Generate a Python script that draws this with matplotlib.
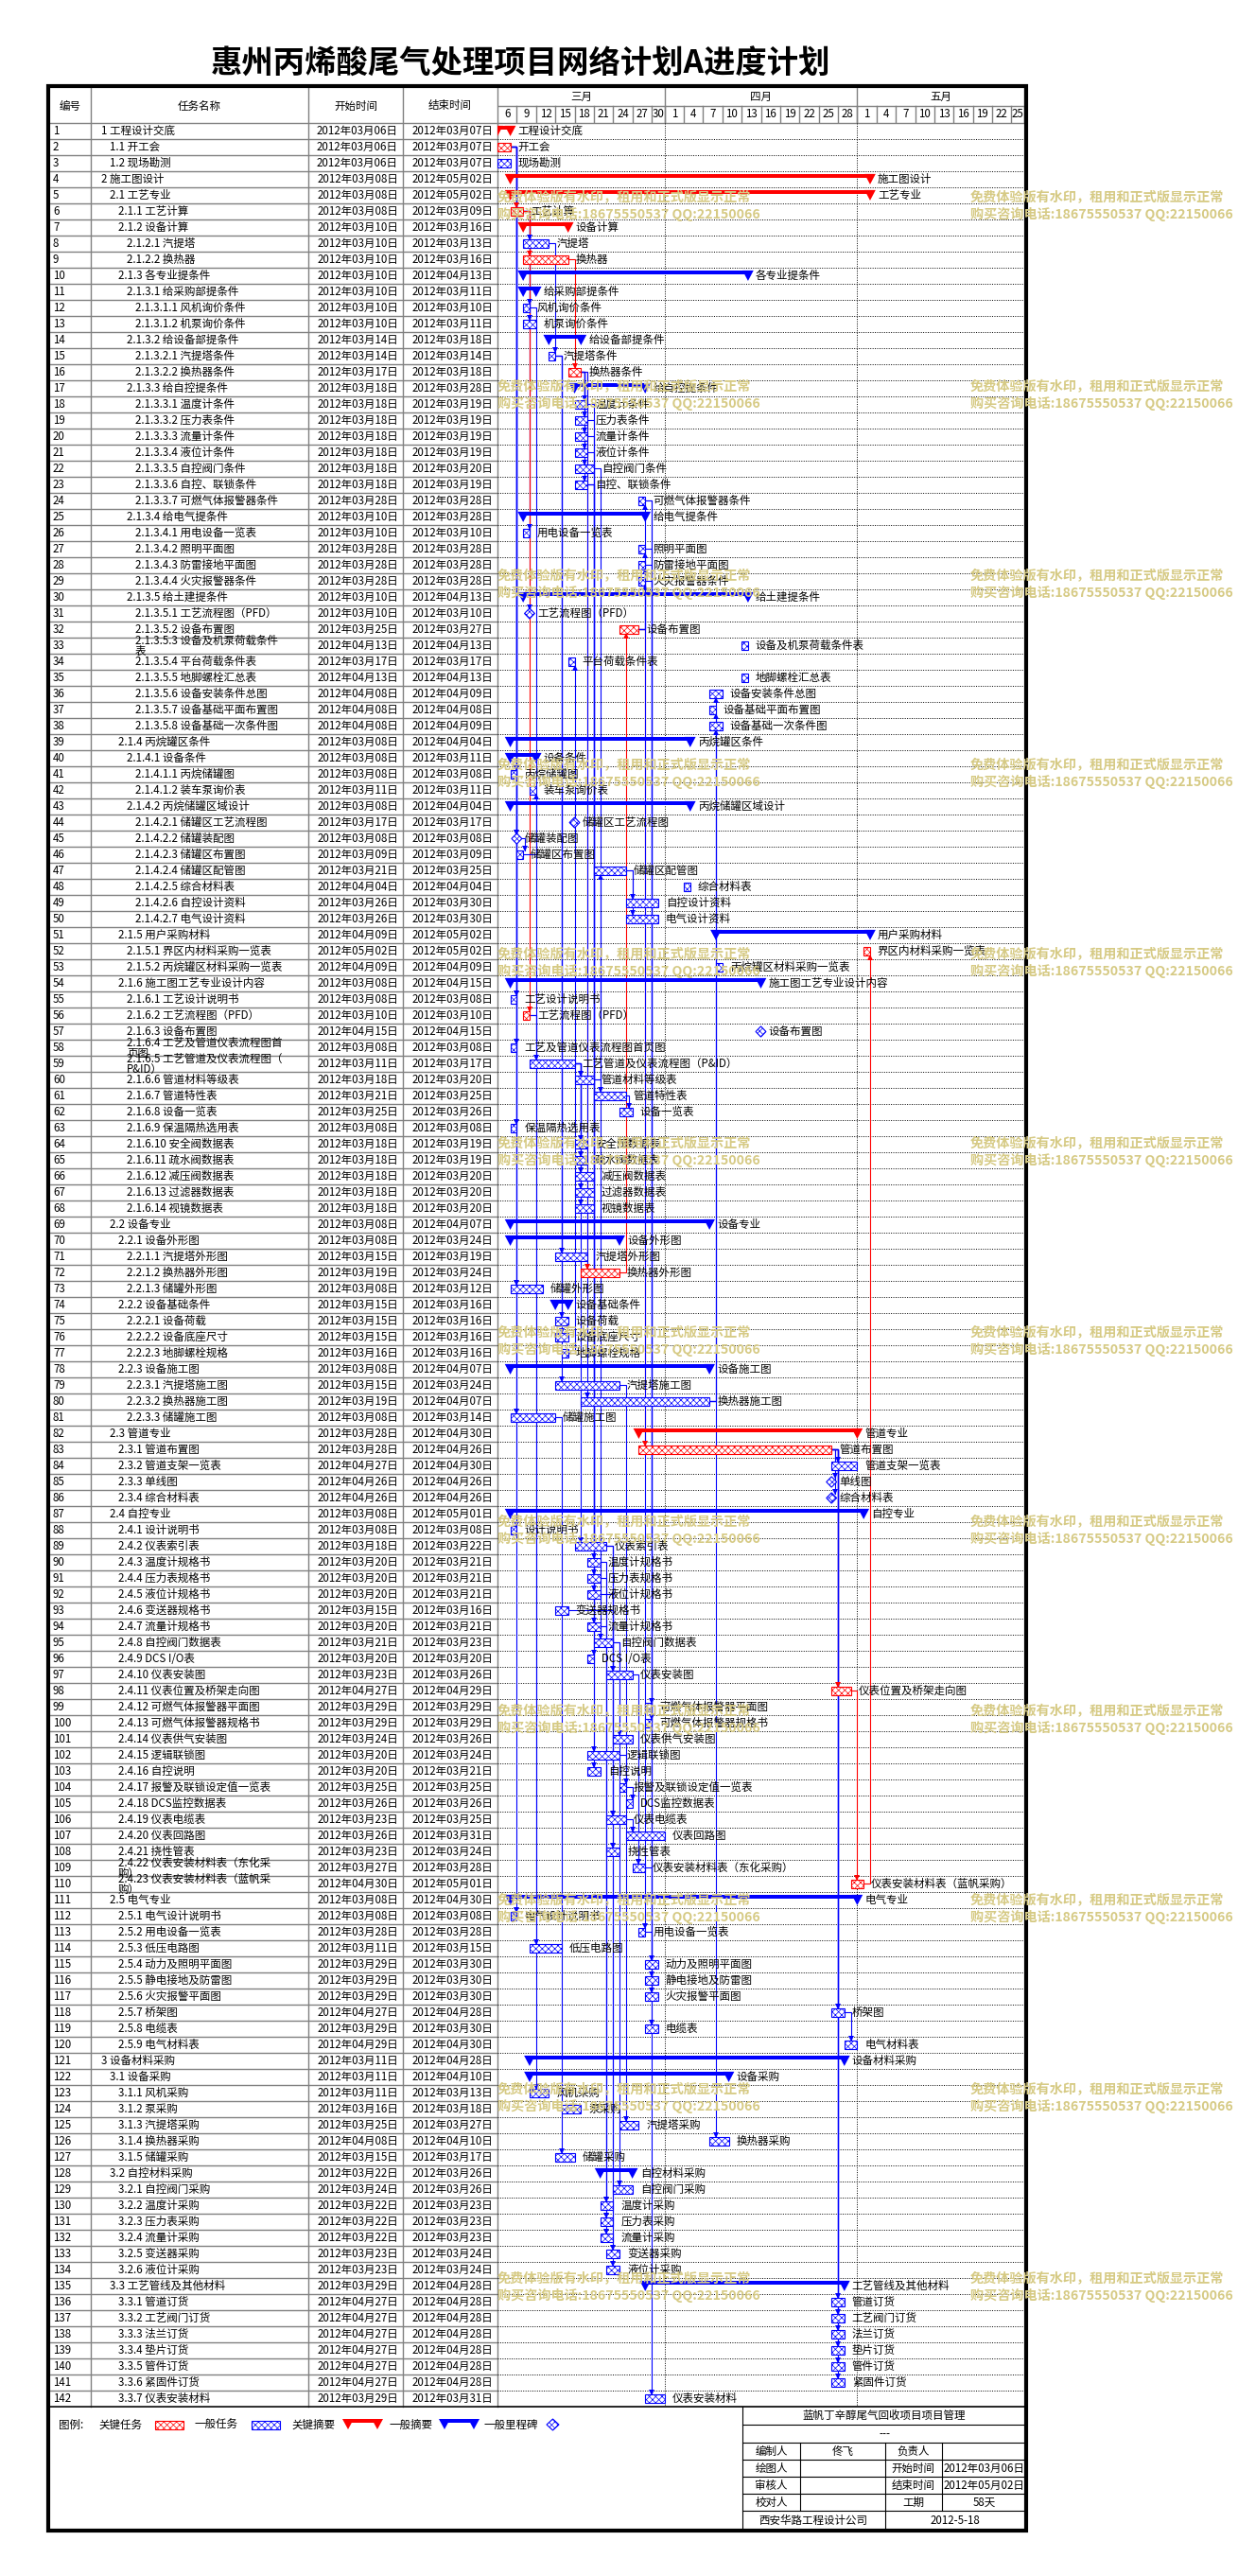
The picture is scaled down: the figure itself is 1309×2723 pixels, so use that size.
import datetime as dt
import matplotlib
matplotlib.use('Agg')
import matplotlib.pyplot as plt
from matplotlib.patches import Rectangle, Polygon

plt.rcParams['font.family'] = ['Noto Sans CJK SC', 'DejaVu Sans']
plt.rcParams['hatch.linewidth'] = 0.5

W, H = 1309, 2723
RED, BLUE, GRAY = '#ff0000', '#0000ff', '#808080'
WM = '#d6ca84'

title = '惠州丙烯酸尾气处理项目网络计划A进度计划'

# ---- 任务数据 ----
names = [
    '1 工程设计交底', '1.1 开工会', '1.2 现场勘测', '2 施工图设计', '2.1 工艺专业',
    '2.1.1 工艺计算', '2.1.2 设备计算', '2.1.2.1 汽提塔', '2.1.2.2 换热器', '2.1.3 各专业提条件',
    '2.1.3.1 给采购部提条件', '2.1.3.1.1 风机询价条件', '2.1.3.1.2 机泵询价条件', '2.1.3.2 给设备部提条件',
    '2.1.3.2.1 汽提塔条件', '2.1.3.2.2 换热器条件', '2.1.3.3 给自控提条件', '2.1.3.3.1 温度计条件',
    '2.1.3.3.2 压力表条件', '2.1.3.3.3 流量计条件', '2.1.3.3.4 液位计条件', '2.1.3.3.5 自控阀门条件',
    '2.1.3.3.6 自控、联锁条件', '2.1.3.3.7 可燃气体报警器条件', '2.1.3.4 给电气提条件',
    '2.1.3.4.1 用电设备一览表', '2.1.3.4.2 照明平面图', '2.1.3.4.3 防雷接地平面图', '2.1.3.4.4 火灾报警器条件',
    '2.1.3.5 给土建提条件', '2.1.3.5.1 工艺流程图（PFD）', '2.1.3.5.2 设备布置图',
    '2.1.3.5.3 设备及机泵荷载条件\n表', '2.1.3.5.4 平台荷载条件表', '2.1.3.5.5 地脚螺栓汇总表',
    '2.1.3.5.6 设备安装条件总图', '2.1.3.5.7 设备基础平面布置图', '2.1.3.5.8 设备基础一次条件图',
    '2.1.4 丙烷罐区条件', '2.1.4.1 设备条件', '2.1.4.1.1 丙烷储罐图', '2.1.4.1.2 装车泵询价表',
    '2.1.4.2 丙烷储罐区域设计', '2.1.4.2.1 储罐区工艺流程图', '2.1.4.2.2 储罐装配图', '2.1.4.2.3 储罐区布置图',
    '2.1.4.2.4 储罐区配管图', '2.1.4.2.5 综合材料表', '2.1.4.2.6 自控设计资料', '2.1.4.2.7 电气设计资料',
    '2.1.5 用户采购材料', '2.1.5.1 界区内材料采购一览表', '2.1.5.2 丙烷罐区材料采购一览表',
    '2.1.6 施工图工艺专业设计内容', '2.1.6.1 工艺设计说明书', '2.1.6.2 工艺流程图（PFD）', '2.1.6.3 设备布置图',
    '2.1.6.4 工艺及管道仪表流程图首\n页图', '2.1.6.5 工艺管道及仪表流程图（\nP&ID）', '2.1.6.6 管道材料等级表',
    '2.1.6.7 管道特性表', '2.1.6.8 设备一览表', '2.1.6.9 保温隔热选用表', '2.1.6.10 安全阀数据表',
    '2.1.6.11 疏水阀数据表', '2.1.6.12 减压阀数据表', '2.1.6.13 过滤器数据表', '2.1.6.14 视镜数据表',
    '2.2 设备专业', '2.2.1 设备外形图', '2.2.1.1 汽提塔外形图', '2.2.1.2 换热器外形图', '2.2.1.3 储罐外形图',
    '2.2.2 设备基础条件', '2.2.2.1 设备荷载', '2.2.2.2 设备底座尺寸', '2.2.2.3 地脚螺栓规格', '2.2.3 设备施工图',
    '2.2.3.1 汽提塔施工图', '2.2.3.2 换热器施工图', '2.2.3.3 储罐施工图', '2.3 管道专业', '2.3.1 管道布置图',
    '2.3.2 管道支架一览表', '2.3.3 单线图', '2.3.4 综合材料表', '2.4 自控专业', '2.4.1 设计说明书',
    '2.4.2 仪表索引表', '2.4.3 温度计规格书', '2.4.4 压力表规格书', '2.4.5 液位计规格书', '2.4.6 变送器规格书',
    '2.4.7 流量计规格书', '2.4.8 自控阀门数据表', '2.4.9 DCS I/O表', '2.4.10 仪表安装图',
    '2.4.11 仪表位置及桥架走向图', '2.4.12 可燃气体报警器平面图', '2.4.13 可燃气体报警器规格书',
    '2.4.14 仪表供气安装图', '2.4.15 逻辑联锁图', '2.4.16 自控说明', '2.4.17 报警及联锁设定值一览表',
    '2.4.18 DCS监控数据表', '2.4.19 仪表电缆表', '2.4.20 仪表回路图', '2.4.21 挠性管表',
    '2.4.22 仪表安装材料表（东化采\n购）', '2.4.23 仪表安装材料表（蓝帆采\n购）', '2.5 电气专业',
    '2.5.1 电气设计说明书', '2.5.2 用电设备一览表', '2.5.3 低压电路图', '2.5.4 动力及照明平面图',
    '2.5.5 静电接地及防雷图', '2.5.6 火灾报警平面图', '2.5.7 桥架图', '2.5.8 电缆表', '2.5.9 电气材料表',
    '3 设备材料采购', '3.1 设备采购', '3.1.1 风机采购', '3.1.2 泵采购', '3.1.3 汽提塔采购', '3.1.4 换热器采购',
    '3.1.5 储罐采购', '3.2 自控材料采购', '3.2.1 自控阀门采购', '3.2.2 温度计采购', '3.2.3 压力表采购',
    '3.2.4 流量计采购', '3.2.5 变送器采购', '3.2.6 液位计采购', '3.3 工艺管线及其他材料', '3.3.1 管道订货',
    '3.3.2 工艺阀门订货', '3.3.3 法兰订货', '3.3.4 垫片订货', '3.3.5 管件订货', '3.3.6 紧固件订货',
    '3.3.7 仪表安装材料',
]

starts = [
    '03-06', '03-06', '03-06', '03-08', '03-08', '03-08', '03-10', '03-10', '03-10', '03-10',
    '03-10', '03-10', '03-10', '03-14', '03-14', '03-17', '03-18', '03-18', '03-18', '03-18',
    '03-18', '03-18', '03-18', '03-28', '03-10', '03-10', '03-28', '03-28', '03-28', '03-10',
    '03-10', '03-25', '04-13', '03-17', '04-13', '04-08', '04-08', '04-08', '03-08', '03-08',
    '03-08', '03-11', '03-08', '03-17', '03-08', '03-09', '03-21', '04-04', '03-26', '03-26',
    '04-09', '05-02', '04-09', '03-08', '03-08', '03-10', '04-15', '03-08', '03-11', '03-18',
    '03-21', '03-25', '03-08', '03-18', '03-18', '03-18', '03-18', '03-18', '03-08', '03-08',
    '03-15', '03-19', '03-08', '03-15', '03-15', '03-15', '03-16', '03-08', '03-15', '03-19',
    '03-08', '03-28', '03-28', '04-27', '04-26', '04-26', '03-08', '03-08', '03-18', '03-20',
    '03-20', '03-20', '03-15', '03-20', '03-21', '03-20', '03-23', '04-27', '03-29', '03-29',
    '03-24', '03-20', '03-20', '03-25', '03-26', '03-23', '03-26', '03-23', '03-27', '04-30',
    '03-08', '03-08', '03-28', '03-11', '03-29', '03-29', '03-29', '04-27', '03-29', '04-29',
    '03-11', '03-11', '03-11', '03-16', '03-25', '04-08', '03-15', '03-22', '03-24', '03-22',
    '03-22', '03-22', '03-23', '03-23', '03-29', '04-27', '04-27', '04-27', '04-27', '04-27',
    '04-27', '03-29',
]

ends = [
    '03-07', '03-07', '03-07', '05-02', '05-02', '03-09', '03-16', '03-13', '03-16', '04-13',
    '03-11', '03-10', '03-11', '03-18', '03-14', '03-18', '03-28', '03-19', '03-19', '03-19',
    '03-19', '03-20', '03-19', '03-28', '03-28', '03-10', '03-28', '03-28', '03-28', '04-13',
    '03-10', '03-27', '04-13', '03-17', '04-13', '04-09', '04-08', '04-09', '04-04', '03-11',
    '03-08', '03-11', '04-04', '03-17', '03-08', '03-09', '03-25', '04-04', '03-30', '03-30',
    '05-02', '05-02', '04-09', '04-15', '03-08', '03-10', '04-15', '03-08', '03-17', '03-20',
    '03-25', '03-26', '03-08', '03-19', '03-19', '03-20', '03-20', '03-20', '04-07', '03-24',
    '03-19', '03-24', '03-12', '03-16', '03-16', '03-16', '03-16', '04-07', '03-24', '04-07',
    '03-14', '04-30', '04-26', '04-30', '04-26', '04-26', '05-01', '03-08', '03-22', '03-21',
    '03-21', '03-21', '03-16', '03-21', '03-23', '03-20', '03-26', '04-29', '03-29', '03-29',
    '03-26', '03-24', '03-21', '03-25', '03-26', '03-25', '03-31', '03-24', '03-28', '05-01',
    '04-30', '03-08', '03-28', '03-15', '03-30', '03-30', '03-30', '04-28', '03-30', '04-30',
    '04-28', '04-10', '03-13', '03-18', '03-27', '04-10', '03-17', '03-26', '03-26', '03-23',
    '03-23', '03-23', '03-24', '03-24', '04-28', '04-28', '04-28', '04-28', '04-28', '04-28',
    '04-28', '03-31',
]

crit_summary = [1, 4, 5, 7, 82]
crit_task = [2, 6, 9, 16, 32, 52, 56, 72, 83, 98, 110]
milestones = [31, 44, 45, 57, 85, 86]

# 前置任务 -> 后续任务
links = [
    (2, 6), (6, 8), (6, 9), (6, 12), (6, 13), (6, 26), (6, 31), (6, 56), (8, 15), (9, 16),
    (16, 18), (16, 19), (16, 20), (16, 21), (16, 22), (16, 23), (16, 72), (16, 80),
    (15, 71), (15, 75), (15, 76), (15, 79), (77, 34), (72, 32), (32, 24), (32, 27), (32, 28),
    (32, 29), (32, 83), (32, 113), (2, 41), (2, 45), (45, 46), (46, 42), (2, 55), (2, 58),
    (2, 63), (2, 73), (2, 81), (2, 88), (2, 112), (56, 59), (59, 60), (59, 64), (59, 65),
    (59, 66), (59, 67), (59, 68), (59, 89), (60, 47), (60, 61), (47, 49), (47, 50), (61, 62),
    (80, 36), (80, 37), (80, 38), (80, 126), (79, 125), (81, 127), (83, 84), (83, 85),
    (83, 86), (83, 98), (83, 118), (83, 136), (83, 137), (83, 138), (83, 139), (83, 140),
    (83, 141), (98, 110), (110, 52), (18, 90), (19, 91), (21, 92), (20, 94), (22, 95),
    (23, 96), (89, 97), (89, 106), (89, 108), (95, 101), (95, 129), (23, 102), (23, 103),
    (102, 104), (104, 105), (106, 107), (97, 109), (109, 142), (24, 99), (24, 100),
    (27, 115), (28, 116), (29, 117), (113, 119), (118, 120), (56, 114), (12, 123),
    (90, 130), (91, 131), (94, 132), (93, 133), (92, 134),
]

months = ['三月', '四月', '五月']
month_starts = ['03-06', '04-01', '05-01', '05-27']
day_ticks = ['03-06', '03-09', '03-12', '03-15', '03-18', '03-21', '03-24', '03-27', '03-30',
             '04-01', '04-04', '04-07', '04-10', '04-13', '04-16', '04-19', '04-22', '04-25', '04-28',
             '05-01', '05-04', '05-07', '05-10', '05-13', '05-16', '05-19', '05-22', '05-25', '05-27']

col_heads = ['编号', '任务名称', '开始时间', '结束时间']
legend_items = ['关键任务', '一般任务', '关键摘要', '一般摘要', '一般里程碑']
wm_lines = ['免费体验版有水印，租用和正式版显示正常', '购买咨询电话:18675550537 QQ:22150066']

info_title = '蓝帆丁辛醇尾气回收项目项目管理'
info_rows = [['编制人', '佟飞', '负责人', ''],
             ['绘图人', '', '开始时间', '2012年03月06日'],
             ['审核人', '', '结束时间', '2012年05月02日'],
             ['校对人', '', '工期', '58天']]
info_foot = ['西安华路工程设计公司', '2012-5-18']

T0 = dt.date(2012, 3, 6)


def day(s):
    m, d = s.split('-')
    return (dt.date(2012, int(m), int(d)) - T0).days


def cn_date(s):
    m, d = s.split('-')
    return '2012年%s月%s日' % (m, d)


n = len(names)
levels = [len(nm.split(' ')[0].split('.')) for nm in names]
summary = [i + 1 for i in range(n - 1) if levels[i + 1] > levels[i]]

# ---- 画布 ----
fig = plt.figure(figsize=(W / 100, H / 100), dpi=100)


def px_axes(x0, y0, x1, y1):
    return fig.add_axes([x0 / W, 1 - y1 / H, (x1 - x0) / W, (y1 - y0) / H])


ax_bg = px_axes(0, 0, W, H)
ax_bg.set_xlim(0, W)
ax_bg.set_ylim(H, 0)
ax_bg.axis('off')

GL, GR = 526, 1083          # 甘特图左右
TOP, BOT = 130, 2544        # 表体上下
FS = 8.3

ax_bg.text(551, 68, title, fontsize=24, fontweight='bold', ha='center', va='center')

# 表头
ax_bg.plot([53, GR], [130, 130], color=GRAY, lw=1)
for x in [96, 326, 426, GL]:
    ax_bg.plot([x, x], [93, BOT], color=GRAY, lw=1)
for x, t in zip([74.5, 211, 376, 476], col_heads):
    ax_bg.text(x, 112, t, fontsize=FS, ha='center', va='center')

ax_h = px_axes(GL, 93, GR, 130)
ax_h.set_xlim(0, day('05-27'))
ax_h.set_ylim(2, 0)
ax_h.axis('off')
ax_h.plot([0, day('05-27')], [1, 1], color=GRAY, lw=1)
for i, m in enumerate(months):
    a, b = day(month_starts[i]), day(month_starts[i + 1])
    ax_h.plot([b, b], [0, 2], color=GRAY, lw=1)
    ax_h.text((a + b) / 2, 0.5, m, fontsize=FS, ha='center', va='center')
for i in range(len(day_ticks) - 1):
    a, b = day(day_ticks[i]), day(day_ticks[i + 1])
    ax_h.plot([b, b], [1, 2], color=GRAY, lw=1)
    ax_h.text((a + b) / 2, 1.5, str(int(day_ticks[i][3:])), fontsize=FS, ha='center', va='center')

# ---- 表格 ----
ax_t = px_axes(53, TOP, GL, BOT)
ax_t.set_xlim(53, GL)
ax_t.set_ylim(n + 0.5, 0.5)
ax_t.axis('off')
for i in range(n):
    r = i + 1
    ax_t.plot([53, GL], [r + 0.5, r + 0.5], color=GRAY, lw=1)
    ax_t.text(56, r, str(r), fontsize=FS, ha='left', va='center')
    x = 107 + 9 * (levels[i] - 1)
    if '\n' in names[i]:
        l1, l2 = names[i].split('\n')
        ax_t.text(x, r - 0.3, l1, fontsize=FS, ha='left', va='center')
        ax_t.text(x, r + 0.36, l2, fontsize=FS, ha='left', va='center')
    else:
        ax_t.text(x, r, names[i], fontsize=FS, ha='left', va='center')
    ax_t.text(421, r, cn_date(starts[i]), fontsize=FS, ha='right', va='center')
    ax_t.text(521, r, cn_date(ends[i]), fontsize=FS, ha='right', va='center')

# ---- 甘特图 ----
ax_g = px_axes(GL, TOP, GR, BOT)
ax_g.set_xlim(0, day('05-27'))
ax_g.set_ylim(n + 0.5, 0.5)
ax_g.axis('off')
dotted = (0, (1, 1.5))
for r in range(1, n + 1):
    ax_g.plot([0, day('05-27')], [r + 0.5, r + 0.5], color='black', lw=0.7, ls=dotted)
for m in month_starts[1:3]:
    ax_g.plot([day(m), day(m)], [0.5, n + 0.5], color='black', lw=0.7, ls=dotted)

BH = 0.265   # 任务条半高（行）
TW = 0.86    # 摘要三角半宽（天）
DW = 0.8     # 里程碑半宽（天）
LBL = 1.18   # 标签偏移（天）


def bar_end(r):
    i = r - 1
    if r in milestones:
        return day(ends[i]) + 1 + DW
    return day(ends[i]) + 1


for i in range(n):
    r = i + 1
    s, e = day(starts[i]), day(ends[i]) + 1
    label = names[i].replace('\n', '').split(' ', 1)[1]
    if r in summary:
        c = RED if r in crit_summary else BLUE
        ax_g.add_patch(Rectangle((s, r - 0.33), e - s, 0.25, color=c, lw=0, zorder=4))
        for xx in (s, e):
            ax_g.add_patch(Polygon([(xx - TW, r - 0.33), (xx + TW, r - 0.33), (xx, r + 0.32)],
                                   closed=True, color=c, lw=0, zorder=4))
    elif r in milestones:
        ax_g.add_patch(Polygon([(e - DW, r), (e, r - 0.33), (e + DW, r), (e, r + 0.33)], closed=True,
                               facecolor='white', edgecolor=BLUE, hatch='xxxxx', lw=0.8, zorder=4))
    else:
        c = RED if r in crit_task else BLUE
        ax_g.add_patch(Rectangle((s, r - BH), e - s, 2 * BH, facecolor='white', edgecolor=c,
                                 hatch='xxxxx', lw=0.8, zorder=4))
    ax_g.text(e + LBL, r, label, fontsize=FS, ha='left', va='center', zorder=6, clip_on=False)

# 链接线
for p, q in links:
    c = RED if (p in crit_task and q in crit_task) else BLUE
    x0 = bar_end(p)
    xv = max(day(starts[q - 1]) + 1, x0 + 0.5)
    if q > p:
        y1, mk = q - BH - 0.02, 'v'
    else:
        y1, mk = q + BH + 0.02, '^'
    ax_g.plot([x0, xv, xv], [p, p, y1], color=c, lw=0.8, zorder=3, solid_joinstyle='miter')
    ax_g.plot([xv], [y1 + (-0.08 if q > p else 0.08)], marker=mk, color=c, markersize=4,
              markeredgewidth=0, zorder=5)

# ---- 图例与边框 ----
ax_bg.plot([53, GR], [BOT, BOT], color='black', lw=1.2)
ly = 2563
ax_bg.text(62, ly, '图例:', fontsize=FS, va='center')
lx_text = [104, 206, 308, 411, 512]
for x, t in zip(lx_text, legend_items):
    ax_bg.text(x, ly, t, fontsize=FS, va='center')
ax_bg.add_patch(Rectangle((164, ly - 4.5), 30, 9, facecolor='white', edgecolor=RED, hatch='xxxxx', lw=0.8))
ax_bg.add_patch(Rectangle((266, ly - 4.5), 30, 9, facecolor='white', edgecolor=BLUE, hatch='xxxxx', lw=0.8))
for x0, c in [(362, RED), (464, BLUE)]:
    ax_bg.add_patch(Rectangle((x0 + 6, ly - 6), 31, 4, color=c, lw=0))
    for xx in (x0 + 6, x0 + 37):
        ax_bg.add_patch(Polygon([(xx - 6, ly - 6), (xx + 6, ly - 6), (xx, ly + 5)], closed=True, color=c, lw=0))
ax_bg.add_patch(Polygon([(578, ly), (584.5, ly - 6), (591, ly), (584.5, ly + 6)], closed=True,
                        facecolor='white', edgecolor=BLUE, hatch='xxxxx', lw=0.8))

# 信息栏
bx = [785, 846, 935.5, 996, 1085]
by = [2544, 2563, 2582, 2600, 2618, 2636, 2654, 2675]
ax_bg.plot([bx[0], bx[0]], [by[0], by[-1]], color='black', lw=0.8)
for y in by[1:-1]:
    ax_bg.plot([bx[0], bx[-1]], [y, y], color='black', lw=0.8)
ax_bg.text((bx[0] + bx[-1]) / 2, (by[0] + by[1]) / 2, info_title, fontsize=FS, ha='center', va='center')
ax_bg.text((bx[0] + bx[-1]) / 2, (by[1] + by[2]) / 2, '---', fontsize=FS, ha='center', va='center')
for k, row in enumerate(info_rows):
    y0, y1 = by[2 + k], by[3 + k]
    for j, t in enumerate(row):
        ax_bg.text((bx[j] + bx[j + 1]) / 2, (y0 + y1) / 2, t, fontsize=FS, ha='center', va='center')
    for x in bx[1:4]:
        ax_bg.plot([x, x], [y0, y1], color='black', lw=0.8)
ax_bg.plot([bx[2], bx[2]], [by[6], by[7]], color='black', lw=0.8)
ax_bg.text((bx[0] + bx[2]) / 2, (by[6] + by[7]) / 2, info_foot[0], fontsize=FS, ha='center', va='center')
ax_bg.text((bx[2] + bx[4]) / 2, (by[6] + by[7]) / 2, info_foot[1], fontsize=FS, ha='center', va='center')

# 外框
ax_bg.add_patch(Rectangle((50.5, 91), 1034.5, 2584, fill=False, edgecolor='black', lw=3.0, zorder=10))

# 水印
for k in range(12):
    y = 202 + 200 * k
    for x in (526, 1026):
        for j, t in enumerate(wm_lines):
            fig.text(x / W, 1 - (y + 17 * j) / H, t, fontsize=10.2, fontweight='bold', color=WM,
                     ha='left', va='top', zorder=20)

fig.savefig('out.png', dpi=100)
